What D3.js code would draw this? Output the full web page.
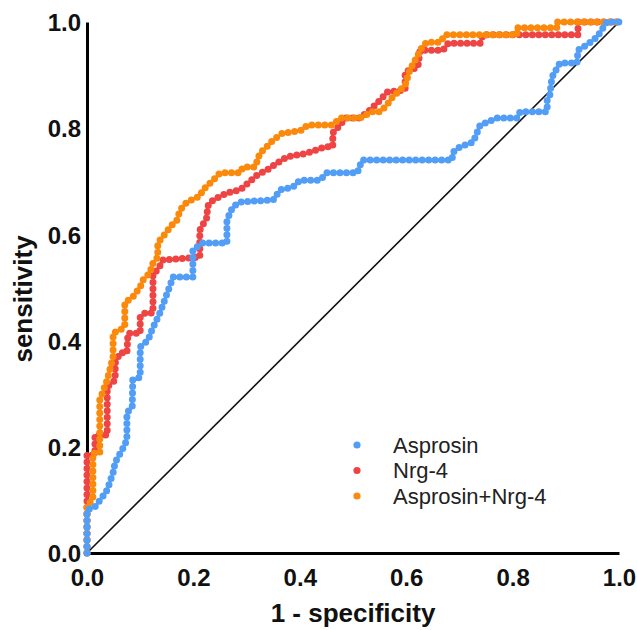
<!DOCTYPE html>
<html>
<head>
<meta charset="utf-8">
<script src="https://cdn.jsdelivr.net/npm/d3@7"></script>
<style>
  body { margin: 0; background: #fff; }
  text { font-family: Arial, "Liberation Sans", sans-serif; }
</style>
</head>
<body>
<div id="chart"></div>
<script>
// ROC curves as [1 - specificity, sensitivity] corner points
var seriesNames = ["Asprosin", "Nrg-4", "Asprosin+Nrg-4"];
var seriesColors = ["#529ef6", "#ee4444", "#fb8a0c"];

var asprosin = [
  [0,0],[0,0.081],[0.015,0.087],[0.028,0.104],[0.038,0.119],[0.049,0.151],[0.053,0.171],
  [0.066,0.194],[0.075,0.213],[0.075,0.264],[0.085,0.275],[0.086,0.326],[0.1,0.331],[0.1,0.388],
  [0.115,0.401],[0.122,0.42],[0.137,0.452],[0.162,0.52],[0.199,0.52],[0.199,0.571],[0.218,0.584],
  [0.263,0.584],[0.263,0.627],[0.274,0.652],[0.288,0.661],[0.35,0.665],[0.363,0.684],[0.387,0.689],
  [0.4,0.702],[0.438,0.702],[0.451,0.716],[0.508,0.716],[0.517,0.74],[0.686,0.74],[0.688,0.755],
  [0.701,0.765],[0.726,0.774],[0.739,0.806],[0.771,0.819],[0.808,0.819],[0.814,0.831],[0.865,0.831],
  [0.865,0.853],[0.87,0.863],[0.874,0.896],[0.889,0.923],[0.921,0.923],[0.923,0.947],[0.94,0.957],
  [0.959,0.972],[0.97,0.989],[0.977,1],[1,1]
];

var nrg4 = [
  [0,0],[0,0.185],[0.015,0.185],[0.015,0.222],[0.038,0.222],[0.038,0.313],[0.053,0.326],
  [0.053,0.358],[0.062,0.377],[0.075,0.377],[0.077,0.414],[0.1,0.414],[0.1,0.444],[0.109,0.452],
  [0.124,0.452],[0.124,0.527],[0.133,0.533],[0.143,0.552],[0.212,0.557],[0.212,0.608],[0.226,0.633],
  [0.226,0.652],[0.237,0.665],[0.263,0.678],[0.288,0.684],[0.32,0.712],[0.338,0.721],[0.357,0.734],
  [0.376,0.746],[0.414,0.753],[0.447,0.765],[0.462,0.765],[0.462,0.791],[0.476,0.806],[0.485,0.819],
  [0.513,0.819],[0.532,0.834],[0.551,0.853],[0.564,0.868],[0.598,0.872],[0.598,0.906],[0.622,0.915],
  [0.626,0.947],[0.669,0.947],[0.679,0.96],[0.739,0.96],[0.744,0.976],[0.923,0.976],[0.923,1],[1,1]
];

var combined = [
  [0,0],[0,0.09],[0.011,0.1],[0.011,0.188],[0.024,0.188],[0.024,0.288],[0.038,0.326],[0.049,0.369],
  [0.049,0.414],[0.062,0.42],[0.071,0.426],[0.071,0.471],[0.086,0.482],[0.1,0.501],[0.105,0.514],
  [0.118,0.527],[0.124,0.546],[0.133,0.557],[0.133,0.584],[0.15,0.605],[0.156,0.614],[0.169,0.627],
  [0.175,0.646],[0.188,0.661],[0.212,0.672],[0.218,0.684],[0.237,0.702],[0.25,0.716],[0.288,0.716],
  [0.293,0.727],[0.316,0.727],[0.325,0.753],[0.338,0.765],[0.35,0.778],[0.368,0.791],[0.387,0.793],
  [0.406,0.797],[0.414,0.806],[0.462,0.806],[0.476,0.819],[0.513,0.819],[0.536,0.831],[0.551,0.831],
  [0.564,0.844],[0.573,0.857],[0.598,0.881],[0.607,0.91],[0.62,0.934],[0.63,0.953],[0.639,0.962],
  [0.664,0.962],[0.673,0.976],[0.808,0.976],[0.808,0.989],[0.883,0.989],[0.883,1],[1,1]
];

var tickValues = [0, 0.2, 0.4, 0.6, 0.8, 1.0];

var width = 637, height = 630;
var margin = { left: 87, right: 18, top: 22, bottom: 77 };

var svg = d3.select("#chart").append("svg")
  .attr("width", width)
  .attr("height", height);

var x = d3.scaleLinear().domain([0, 1]).range([margin.left, width - margin.right]);
var y = d3.scaleLinear().domain([0, 1]).range([height - margin.bottom, margin.top]);

// reference line
svg.append("line")
  .attr("x1", x(0)).attr("y1", y(0))
  .attr("x2", x(1)).attr("y2", y(1))
  .style("stroke", "#111")
  .style("stroke-width", 1.6);

// axes
var xAxis = svg.append("g")
  .attr("transform", "translate(0," + y(0) + ")")
  .call(d3.axisBottom(x).tickValues(tickValues).tickFormat(d3.format(".1f")).tickSize(0).tickPadding(16));
var yAxis = svg.append("g")
  .attr("transform", "translate(" + x(0) + ",0)")
  .call(d3.axisLeft(y).tickValues(tickValues).tickFormat(d3.format(".1f")).tickSize(0).tickPadding(6));

[xAxis, yAxis].forEach(function(a){
  a.select(".domain").style("stroke", "#000").style("stroke-width", 3);
  a.selectAll("text")
    .style("font-family", "Arial, 'Liberation Sans', sans-serif")
    .style("font-size", "24px")
    .style("font-weight", "bold")
    .attr("fill", "#111");
});
yAxis.selectAll("text").attr("dy", "0.36em");

// curves drawn as dotted lines (round caps, zero-length dashes)
var line = d3.line()
  .x(function(d){ return x(d[0]); })
  .y(function(d){ return y(d[1]); });

var curves = [nrg4, combined, asprosin];
var curveColors = [seriesColors[1], seriesColors[2], seriesColors[0]];

svg.selectAll(".roc")
  .data(curves)
  .enter()
  .append("path")
  .attr("class", "roc")
  .attr("d", line)
  .style("fill", "none")
  .style("stroke", function(d, i){ return curveColors[i]; })
  .style("stroke-width", 7)
  .style("stroke-linecap", "round")
  .style("stroke-linejoin", "round")
  .style("stroke-dasharray", "0 6.5");

// axis titles
svg.append("text")
  .attr("x", (x(0) + x(1)) / 2)
  .attr("y", 622)
  .attr("text-anchor", "middle")
  .style("font-size", "26px")
  .style("font-weight", "bold")
  .attr("fill", "#111")
  .text("1 - specificity");

svg.append("text")
  .attr("transform", "translate(32," + 299 + ") rotate(-90)")
  .attr("text-anchor", "middle")
  .style("font-size", "26px")
  .style("font-weight", "bold")
  .attr("fill", "#111")
  .text("sensitivity");

// legend
var legend = svg.append("g")
  .attr("transform", "translate(357,445)");

legend.selectAll("circle")
  .data(seriesNames)
  .enter()
  .append("circle")
  .attr("cx", 0)
  .attr("cy", function(d, i){ return i * 25.5; })
  .attr("r", 3.6)
  .style("fill", function(d, i){ return seriesColors[i]; });

legend.selectAll("text")
  .data(seriesNames)
  .enter()
  .append("text")
  .attr("x", 36)
  .attr("y", function(d, i){ return i * 25.5 + 7.5; })
  .style("font-size", "22px")
  .attr("fill", "#222")
  .text(function(d){ return d; });
</script>
</body>
</html>
